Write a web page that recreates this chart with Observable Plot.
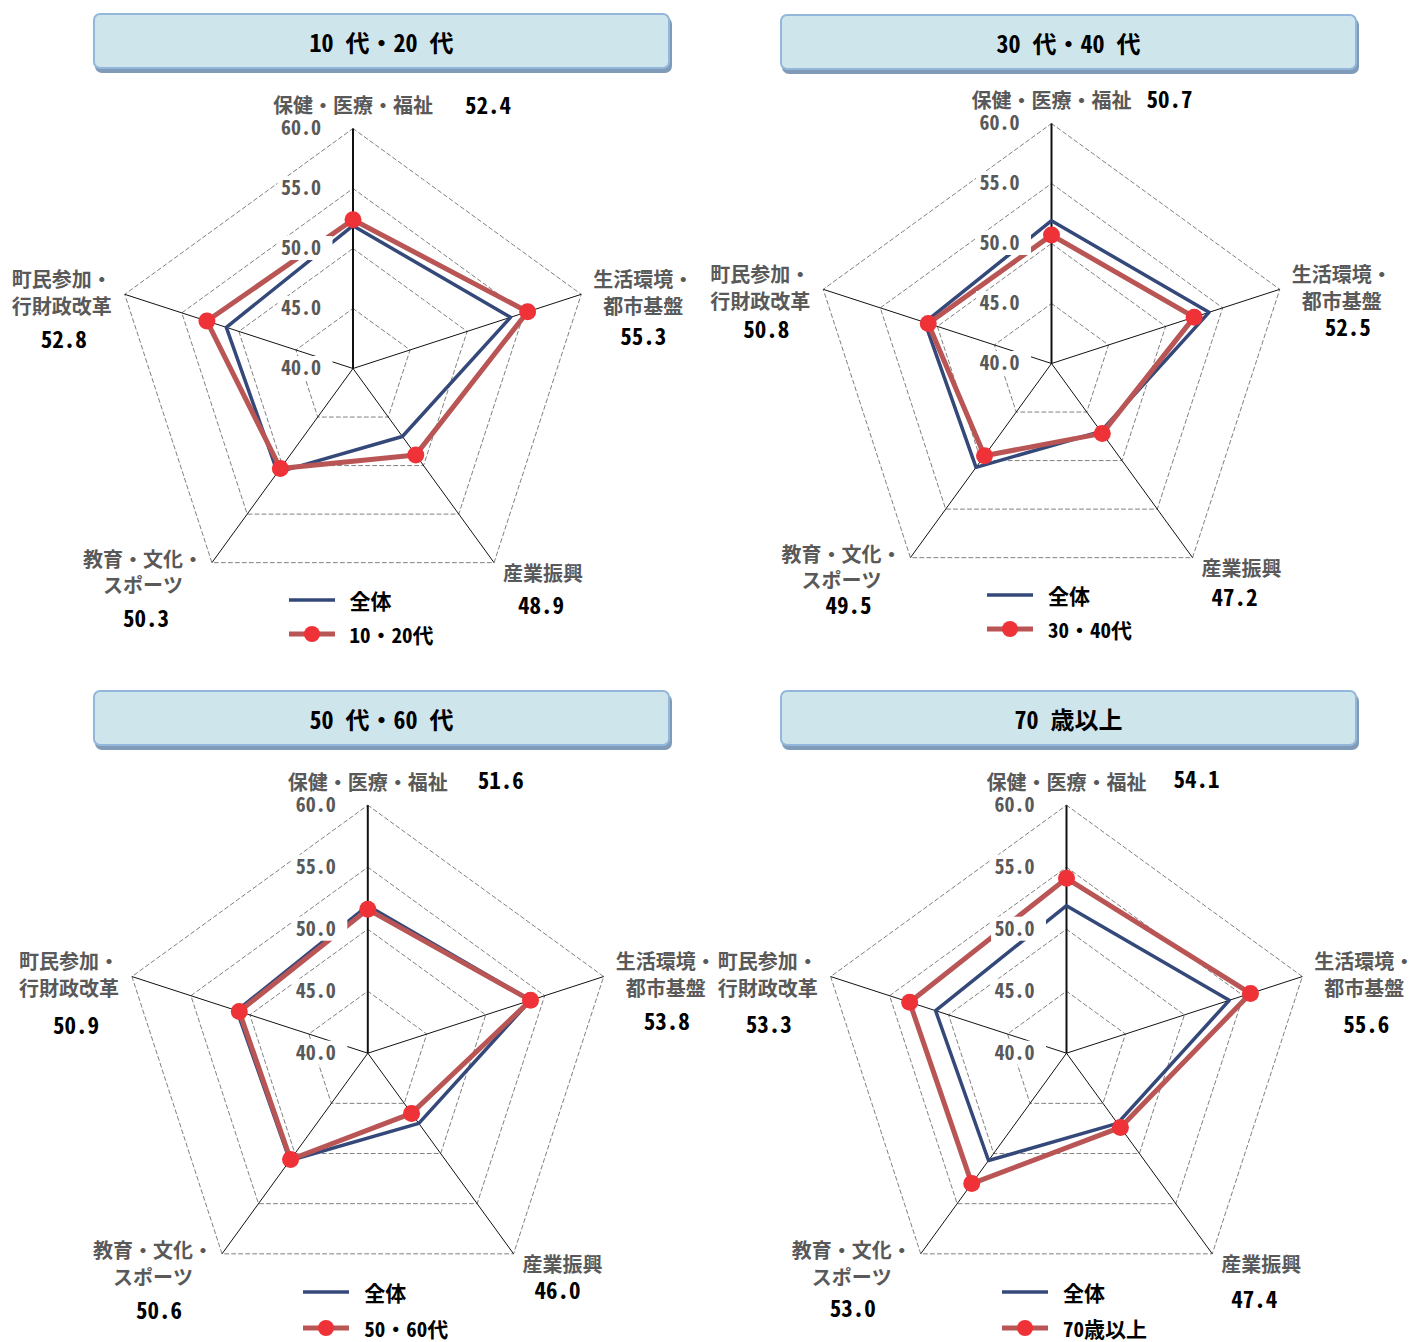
<!DOCTYPE html>
<html lang="ja">
<head>
<meta charset="utf-8">
<script src="https://cdn.jsdelivr.net/npm/d3@7"></script>
<script src="https://cdn.jsdelivr.net/npm/@observablehq/plot@0.6"></script>
<style>
  html, body { margin: 0; padding: 0; background: #fff; }
  #figure {
    position: relative; width: 1413px; height: 1342px; overflow: hidden;
    font-family: "Noto Sans Mono CJK JP", "Noto Sans CJK JP", sans-serif;
  }
  .frame { position: absolute; }
  .frame svg { position: absolute; left: 0; top: 0; overflow: visible; }
  .title {
    position: absolute; box-sizing: border-box;
    background: #cde5eb; border: 2px solid #93b7da; border-radius: 7px;
    box-shadow: 2px 4px 0 #7f9bb8;
    display: flex; align-items: center; justify-content: center;
    font-size: 24px; font-weight: 700; color: #000; white-space: pre;
  }
  .legend-row {
    position: absolute; display: flex; align-items: center; height: 26px;
    font-size: 21px; line-height: 26px; font-weight: 700; color: #000; white-space: nowrap;
  }
  .legend-row svg { display: block; }
</style>
</head>
<body>
<div id="figure"></div>
<script>
// Satisfaction scores by policy field, five axes of the radar
const axes = ["保健・医療・福祉", "生活環境・\n都市基盤", "産業振興", "教育・文化・\nスポーツ", "町民参加・\n行財政改革"];
const ticks = [40, 45, 50, 55, 60];

// All respondents (drawn in every panel)
const overallName = "全体";
const overall = [51.9, 53.8, 47.0, 50.7, 51.1];

// Age groups
const titles = ["10 代・20 代", "30 代・40 代", "50 代・60 代", "70 歳以上"];
const groups = ["10・20代", "30・40代", "50・60代", "70歳以上"];
const age1020 = [52.4, 55.3, 48.9, 50.3, 52.8];
const age3040 = [50.7, 52.5, 47.2, 49.5, 50.8];
const age5060 = [51.6, 53.8, 46.0, 50.6, 50.9];
const age70 = [54.1, 55.6, 47.4, 53.0, 53.3];
const groupValues = [age1020, age3040, age5060, age70];

// Panel geometry (page pixels): frame, radar centre within the frame, radius of the outer ring
const panels = [
  {left: 0,   top: 75,  width: 706, height: 590, cx: 352.5, cy: 293,   R: 240,
   box: {left: 93, top: 13, width: 577, height: 56},
   valueOffsets: [[135, -22], [62, 43], [47, 44], [-66, 57], [-61, 46]]},
  {left: 706, top: 75,  width: 707, height: 590, cx: 345,   cy: 288,   R: 240,
   box: {left: 780, top: 14, width: 577, height: 56},
   valueOffsets: [[118, -23], [68, 39], [42, 41], [-62, 49], [-57, 41]]},
  {left: 0,   top: 755, width: 713, height: 587, cx: 367.3, cy: 297.7, R: 248,
   box: {left: 93, top: 690, width: 577, height: 56},
   valueOffsets: [[133, -24], [63, 46], [44, 38], [-63, 58], [-56, 50]]},
  {left: 713, top: 755, width: 700, height: 587, cx: 353,   cy: 297.7, R: 248,
   box: {left: 780, top: 690, width: 577, height: 56},
   valueOffsets: [[130, -25], [64, 49], [42, 47], [-68, 56], [-62, 49]]}
];

// Category label offsets from the outer end of each spoke (pixels)
const labelOffsets = [[0, -24], [62, -2.5], [49, 10], [-69, 9], [-63, -2.5]];

const blue = "#34497a";
const red = "#b95555";
const dotRed = "#ee3237";
const gray = "#595959";
const fontFamily = `"Noto Sans Mono CJK JP", "Noto Sans CJK JP", sans-serif`;

const baseTick = ticks[0];
const maxTick = ticks[ticks.length - 1];
const angle = i => i * 2 * Math.PI / axes.length;
const polar = (v, i) => ({x: (v - baseTick) * Math.sin(angle(i)), y: (v - baseTick) * Math.cos(angle(i))});

const figure = document.getElementById("figure");

panels.forEach((p, k) => {
  const u = p.R / (maxTick - baseTick); // pixels per score point
  const values = groupValues[k];

  const gridPts = ticks.slice(1).flatMap(t => axes.map((a, i) => ({level: t, ...polar(t, i)})));
  const spokes = axes.map((a, i) => ({i, ...polar(maxTick, i)}));
  const overallPts = overall.map((v, i) => polar(v, i));
  const groupPts = values.map((v, i) => ({v, ...polar(v, i)}));

  const catLabels = axes.map((a, i) => {
    const e = polar(maxTick, i);
    const [ox, oy] = labelOffsets[i];
    return {text: a, x: e.x + ox / u, y: e.y - oy / u};
  });
  const valLabels = values.map((v, i) => {
    const e = polar(maxTick, i);
    const [ox, oy] = p.valueOffsets[i];
    return {text: v.toFixed(1), x: e.x + ox / u, y: e.y - oy / u};
  });

  const chart = Plot.plot({
    width: p.width,
    height: p.height,
    margin: 0,
    x: {domain: [-p.cx / u, (p.width - p.cx) / u], axis: null},
    y: {domain: [-(p.height - p.cy) / u, p.cy / u], axis: null},
    style: {overflow: "visible", background: "transparent", fontFamily},
    marks: [
      // dashed rings at 45, 50, 55, 60
      Plot.line(gridPts, {x: "x", y: "y", z: "level", curve: "linear-closed",
        stroke: "#808080", strokeWidth: 1, strokeDasharray: "4,3"}),
      // spokes; the value axis is heavier
      Plot.link(spokes.filter(d => d.i !== 0), {x1: () => 0, y1: () => 0, x2: "x", y2: "y",
        stroke: "#111", strokeWidth: 1}),
      Plot.link(spokes.filter(d => d.i === 0), {x1: () => 0, y1: () => 0, x2: "x", y2: "y",
        stroke: "#111", strokeWidth: 2}),
      // series
      Plot.line(overallPts, {x: "x", y: "y", curve: "linear-closed", stroke: blue, strokeWidth: 3.5}),
      Plot.line(groupPts, {x: "x", y: "y", curve: "linear-closed", stroke: red, strokeWidth: 5}),
      Plot.dot(groupPts, {x: "x", y: "y", r: 8.5, fill: dotRed}),
      // value-axis tick labels on white boxes
      Plot.rect(ticks, {x1: () => -75 / u, x2: () => -20 / u,
        y1: t => t - baseTick - 12 / u, y2: t => t - baseTick + 12 / u, fill: "#fff"}),
      Plot.text(ticks, {x: () => 0, y: t => t - baseTick, text: t => t.toFixed(1), textAnchor: "end", dx: -32,
        fill: gray, fontSize: 20, fontWeight: 700, fontFamily}),
      // category labels
      Plot.text(catLabels, {x: "x", y: "y", text: "text", lineHeight: 1.33, textAnchor: "middle",
        fill: gray, fontSize: 20, fontWeight: 700, fontFamily}),
      // group scores
      Plot.text(valLabels, {x: "x", y: "y", text: "text", textAnchor: "middle",
        fill: "#000", fontSize: 23, fontWeight: 700, fontFamily})
    ]
  });

  const frame = document.createElement("div");
  frame.className = "frame";
  Object.assign(frame.style, {left: p.left + "px", top: p.top + "px", width: p.width + "px", height: p.height + "px"});
  frame.appendChild(chart);
  figure.appendChild(frame);

  // title box
  const title = document.createElement("div");
  title.className = "title";
  Object.assign(title.style, {left: p.box.left + "px", top: p.box.top + "px",
    width: p.box.width + "px", height: p.box.height + "px"});
  title.textContent = titles[k];
  figure.appendChild(title);

  // legend
  const s = p.R / 240;
  const rows = [
    {label: overallName, stroke: blue, sw: 3.5, dot: false, y: 232 * s},
    {label: groups[k], stroke: red, sw: 5, dot: true, y: 266 * s}
  ];
  rows.forEach(r => {
    const row = document.createElement("div");
    row.className = "legend-row";
    Object.assign(row.style, {left: (p.left + p.cx - 64) + "px", top: (p.top + p.cy + r.y - 13) + "px"});
    row.innerHTML = `<svg width="46" height="26"><line x1="0" x2="46" y1="13" y2="13" stroke="${r.stroke}" stroke-width="${r.sw}"/>` +
      (r.dot ? `<circle cx="23" cy="13" r="8" fill="${dotRed}"/>` : "") +
      `</svg><span style="margin-left:15px">${r.label}</span>`;
    figure.appendChild(row);
  });
});
</script>
</body>
</html>
